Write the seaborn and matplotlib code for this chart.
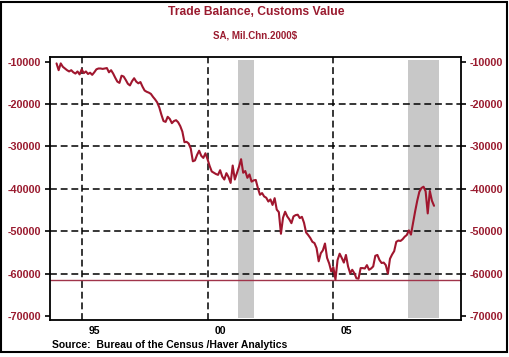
import numpy as np
import pandas as pd
import matplotlib
matplotlib.use("Agg")
import matplotlib.pyplot as plt
import seaborn as sns
from matplotlib.ticker import MultipleLocator, NullFormatter
from matplotlib.patches import Rectangle
from matplotlib.transforms import blended_transform_factory

# ---------------- data (monthly, SA, Mil.Chn.2000$) ----------------
start_year = 1994
trade_1994 = [-10400, -12000, -10400, -11200, -11600, -12000, -12300, -12000, -12500, -12800, -12300, -13000]
trade_1995 = [-11800, -12700, -12300, -12900, -12600, -13100, -12500, -11800, -11600, -11600, -11700, -11600]
trade_1996 = [-11500, -12500, -12000, -12800, -13800, -14700, -15000, -13300, -13500, -14300, -15200, -15600]
trade_1997 = [-14600, -13900, -14700, -15100, -14800, -15900, -16800, -17100, -17300, -17600, -18300, -18900]
trade_1998 = [-19600, -20800, -22500, -24000, -24200, -23000, -23500, -24500, -24000, -23800, -24300, -25200]
trade_1999 = [-26500, -29000, -28900, -29300, -30500, -33500, -33300, -32000, -31000, -32200, -32700, -31600]
trade_2000 = [-33000, -34600, -35900, -36200, -36500, -36700, -35600, -37100, -37800, -36300, -37200, -38600]
trade_2001 = [-34500, -37800, -36300, -34800, -33000, -36200, -35800, -37400, -36600, -38300, -38000, -37900]
trade_2002 = [-39800, -41400, -41000, -41800, -42100, -43000, -42500, -43800, -42200, -44900, -45500, -50600]
trade_2003 = [-46800, -45400, -46500, -47200, -48100, -46500, -46200, -46100, -46900, -46600, -48000, -50300]
trade_2004 = [-50900, -51600, -52500, -52800, -54000, -57100, -55200, -54500, -52900, -56300, -57600, -59500]
trade_2005 = [-58500, -61400, -56800, -55300, -56300, -57400, -55600, -58300, -59900, -59100, -59900, -61100]
trade_2006 = [-61200, -58700, -58700, -58800, -58000, -59100, -58800, -58300, -55800, -55600, -56800, -57500]
trade_2007 = [-57400, -58000, -60000, -56500, -55500, -54700, -52500, -52200, -52300, -51900, -51300, -50900]
trade_2008 = [-49800, -50800, -48000, -45300, -42800, -40700, -39800, -39500, -40600, -45800, -40500, -42800]
trade_2009 = [-44000]

recession_starts = [2001.21, 2007.96]
recession_ends = [2001.84, 2009.19]

y_ticks = [-10000, -20000, -30000, -40000, -50000, -60000, -70000]
grid_y = [-20000, -30000, -40000, -50000, -60000]
grid_x = [1995, 2000, 2005]
x_label_years = [1995, 2000, 2005]
x_labels = ["95", "00", "05"]

title = "Trade Balance, Customs Value"
subtitle = "SA, Mil.Chn.2000$"
source = "Source:  Bureau of the Census /Haver Analytics"

# ---------------- build frame ----------------
values = (trade_1994 + trade_1995 + trade_1996 + trade_1997 + trade_1998 + trade_1999 +
          trade_2000 + trade_2001 + trade_2002 + trade_2003 + trade_2004 + trade_2005 +
          trade_2006 + trade_2007 + trade_2008 + trade_2009)
dates = start_year + np.arange(len(values)) / 12.0
df = pd.DataFrame({"date": dates, "balance": values})

# ---------------- style ----------------
sns.set_style("white")
plt.rcParams['font.family'] = ['Liberation Sans', 'DejaVu Sans']
plt.rcParams['font.weight'] = 'bold'

RED = '#9A1B2F'
LINE = '#A0162E'
W, H = 510, 357

fig = plt.figure(figsize=(W / 100, H / 100), dpi=100)
fig.patch.set_facecolor('white')
ax_l, ax_r, ax_t, ax_b = 50, 460.7, 57, 319.5
ax = fig.add_axes([ax_l / W, 1 - ax_b / H, (ax_r - ax_l) / W, (ax_b - ax_t) / H])

# recession shading
for s, e in zip(recession_starts, recession_ends):
    ax.axvspan(s, e, ymin=0.006, ymax=0.988, color='#C8C8C8', lw=0, zorder=0)

# dashed grid
for gy in grid_y:
    ax.axhline(gy, color='black', lw=1.1, ls=(0, (4.5, 2.5)), zorder=1)
for gx in grid_x:
    ax.axvline(gx, color='black', lw=1.1, ls=(0, (4.5, 2.5)), zorder=1)

# minimum line
ax.axhline(min(values), color='#A0344A', lw=1.0, zorder=2)

sns.lineplot(data=df, x="date", y="balance", ax=ax, color=LINE, lw=1.5, zorder=3, legend=False)

ax.set_xlim(1993.74, 2010.06)
ax.set_ylim(-70830, -8890)
ax.set_xlabel("")
ax.set_ylabel("")

for sp in ax.spines.values():
    sp.set_visible(True)
    sp.set_color('black')
    sp.set_linewidth(1.3)

ax.set_yticks(y_ticks)
ax.set_yticklabels([str(v) for v in y_ticks])
ax.tick_params(axis='y', which='both', left=True, right=True, labelleft=True, labelright=True,
               direction='out', length=3.5, width=1.2, color='black', labelcolor=RED,
               labelsize=7.8, pad=3)

ax.xaxis.set_major_locator(MultipleLocator(1))
ax.xaxis.set_minor_locator(MultipleLocator(0.25))
ax.xaxis.set_major_formatter(NullFormatter())
ax.tick_params(axis='x', which='major', direction='out', length=4.5, width=1.2, color='black')
ax.tick_params(axis='x', which='minor', direction='out', length=2.5, width=1.0, color='black')
for lab in ax.get_yticklabels():
    lab.set_fontweight('bold')

trans = blended_transform_factory(ax.transData, fig.transFigure)
for yr, lab in zip(x_label_years, x_labels):
    ax.text(yr + 0.5, 1 - 330.5 / H, lab, transform=trans, ha='center', va='center',
            fontsize=7.5, fontweight='bold', color='black')

fig.text(256 / W, 1 - 12 / H, title, ha='center', va='center', fontsize=8.7,
         fontweight='bold', color=RED)
fig.text(255.5 / W, 1 - 35 / H, subtitle, ha='center', va='center', fontsize=7.0,
         fontweight='bold', color=RED)
fig.text(52 / W, 1 - 344.5 / H, source, ha='left', va='center', fontsize=7.5,
         fontweight='bold', color='black')

# outer frame
fig.patches.append(Rectangle((1.5 / W, 1 - 352 / H), (507 - 1.5) / W, (352 - 1.5) / H,
                             transform=fig.transFigure, fill=False, edgecolor='black', lw=1.5))

fig.savefig("out.png", dpi=100, facecolor='white')
